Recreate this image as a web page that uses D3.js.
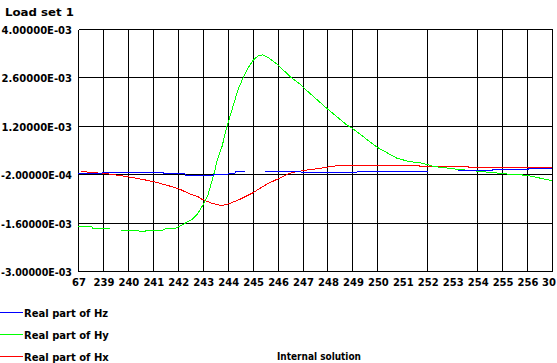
<!DOCTYPE html>
<html>
<head>
<meta charset="utf-8">
<script src="https://cdn.jsdelivr.net/npm/d3@7"></script>
<style>
  body { margin: 0; background: #fff; }
  text { font-family: "DejaVu Sans", sans-serif; font-weight: bold; font-size: 10px; fill: #000; }
</style>
</head>
<body>
<div id="chart"></div>
<script>
// x positions are in tick units (0 = first label, 19 = last label)
// y values are in units of 1e-3
const xLabels = ['67', '239', '240', '241', '242', '243', '244', '245', '246', '247',
  '248', '249', '250', '251', '252', '253', '254', '255', '256', '30'];
const missingGrid = [13, 15];
const yTicks = [4.0, 2.6, 1.2, -0.2, -1.6, -3.0];
const yLabels = ['4.00000E-03', '2.60000E-03', '1.20000E-03', '-2.00000E-04', '-1.60000E-03', '-3.00000E-03'];

const legendNames = ['Real part of Hz', 'Real part of Hy', 'Real part of Hx'];
const legendColors = ['#0000ff', '#00ff00', '#ff0000'];

// Real part of Hz (blue), null = gap in the trace
const hz = [[0, -0.174], [0.96, -0.174], [1.0, -0.145], [3.41, -0.145], [3.45, -0.194],
  [4.29, -0.194], [4.33, -0.243], [5.41, -0.243], [5.45, -0.2], [6.01, -0.2],
  [6.03, -0.174], [6.29, -0.174], [6.31, -0.128], [6.69, -0.128], [7.1, null],
  [7.50, -0.116], [8.90, -0.116], [8.94, -0.145], [11.18, -0.145], [11.22, -0.116],
  [14.03, -0.116], [14.6, null], [15.23, -0.087], [16.60, -0.087], [16.64, -0.058],
  [18.04, -0.058], [18.08, -0.029], [19, -0.029]];

// Real part of Hy (green)
const hy = [[0, -1.719], [0.56, -1.719], [0.60, -1.785], [1.28, -1.785], [1.5, null],
  [1.72, -1.823], [2.41, -1.823], [2.45, -1.852], [2.69, -1.852], [2.73, -1.823],
  [3.37, -1.823], [3.57, -1.765], [3.89, -1.765], [4.09, -1.698], [4.29, -1.62],
  [4.57, -1.505], [4.81, -1.331], [5.01, -1.09], [5.21, -0.80], [5.29, -0.60],
  [5.37, -0.40], [5.49, -0.08], [5.57, 0.18], [5.77, 0.595], [5.97, 1.174],
  [6.21, 1.752], [6.41, 2.236], [6.61, 2.574], [6.81, 2.863], [7.01, 3.083],
  [7.22, 3.228], [7.40, 3.25], [7.62, 3.181], [7.98, 2.979], [8.30, 2.765],
  [8.58, 2.574], [8.90, 2.409], [9.0, 2.33], [9.98, 1.70], [10.78, 1.22],
  [10.98, 1.136], [11.99, 0.58], [12.79, 0.26], [13.31, 0.16], [13.71, 0.133],
  [14.31, 0.017], [15.23, -0.058], [16.23, -0.128], [17.20, -0.194], [18.00, -0.232],
  [19, -0.388]];

// Real part of Hx (red)
const hx = [[0.12, -0.12], [0.68, -0.157], [1.20, -0.19], [1.88, -0.261], [2.57, -0.348],
  [3.09, -0.426], [3.77, -0.562], [4.09, -0.637], [4.29, -0.706], [4.49, -0.773],
  [4.81, -0.851], [4.97, -0.926], [5.37, -1.042], [5.77, -1.111], [6.09, -1.042],
  [6.49, -0.926], [6.97, -0.753], [7.58, -0.484], [7.98, -0.348], [8.38, -0.203],
  [8.62, -0.145], [9.10, -0.087], [9.42, -0.058], [9.98, 0.0], [10.18, 0.029],
  [10.62, 0.057], [13.63, 0.057], [13.71, 0.03], [15.63, 0.03], [15.67, 0.0], [19, 0.0]];

var width = 557, height = 363;
var plot = {left: 78, right: 552, top: 29, bottom: 271};

var svg = d3.select('#chart')
  .append('svg')
  .attr('width', width)
  .attr('height', height);

var x = d3.scaleLinear().domain([0, xLabels.length - 1]).range([plot.left, plot.right]);
var y = d3.scaleLinear().domain([-3, 4]).range([plot.bottom, plot.top]);

// pixel snapped positions for the grid
var px = function (v) { return Math.round(x(v)) + 0.5; };
var py = function (v) { return Math.round(y(v)) + 0.5; };

svg.append('text')
  .attr('x', 5)
  .attr('y', 16)
  .attr('textLength', 69)
  .attr('lengthAdjust', 'spacingAndGlyphs')
  .text('Load set 1');

var grid = svg.append('g')
  .attr('stroke', '#000')
  .attr('stroke-width', 1)
  .attr('shape-rendering', 'crispEdges');

grid.selectAll('line.h')
  .data(yTicks)
  .enter()
  .append('line')
  .attr('class', 'h')
  .attr('x1', px(0))
  .attr('x2', px(xLabels.length - 1))
  .attr('y1', function (d) { return py(d); })
  .attr('y2', function (d) { return py(d); });

grid.selectAll('line.v')
  .data(d3.range(xLabels.length).filter(function (i) { return missingGrid.indexOf(i) < 0; }))
  .enter()
  .append('line')
  .attr('class', 'v')
  .attr('y1', py(4))
  .attr('y2', py(-3))
  .attr('x1', function (d) { return px(d); })
  .attr('x2', function (d) { return px(d); });

svg.append('g')
  .selectAll('text')
  .data(yTicks)
  .enter()
  .append('text')
  .attr('x', 72)
  .attr('y', function (d) { return y(d) + 5; })
  .attr('text-anchor', 'end')
  .text(function (d, i) { return yLabels[i]; })
  .each(function () {
    // squeeze the long labels so they stay inside the left edge
    if (this.getComputedTextLength() > 71) {
      d3.select(this).attr('textLength', 71).attr('lengthAdjust', 'spacingAndGlyphs');
    }
  });

svg.append('g')
  .selectAll('text')
  .data(xLabels)
  .enter()
  .append('text')
  .attr('x', function (d, i) { return i === xLabels.length - 1 ? 556 : x(i) + 1; })
  .attr('y', 286)
  .attr('text-anchor', function (d, i) { return i === xLabels.length - 1 ? 'end' : 'middle'; })
  .text(function (d) { return d; });

var line = d3.line()
  .defined(function (d) { return d[1] != null; })
  .x(function (d) { return x(d[0]); })
  .y(function (d) { return y(d[1]); });

[[hx, '#ff0000'], [hy, '#00ff00'], [hz, '#0000ff']].forEach(function (s) {
  svg.append('path')
    .datum(s[0])
    .attr('d', line)
    .attr('fill', 'none')
    .attr('stroke', s[1])
    .attr('stroke-width', 1)
    .attr('shape-rendering', 'crispEdges');
});

var legend = svg.append('g')
  .selectAll('g')
  .data(legendNames)
  .enter()
  .append('g')
  .attr('transform', function (d, i) { return 'translate(0,' + (312 + i * 22) + ')'; });

legend.append('line')
  .attr('x1', 0)
  .attr('x2', 23)
  .attr('y1', 0.5)
  .attr('y2', 0.5)
  .attr('stroke', function (d, i) { return legendColors[i]; })
  .attr('shape-rendering', 'crispEdges');

legend.append('text')
  .attr('x', 24)
  .attr('y', 4.5)
  .text(function (d) { return d; });

svg.append('text')
  .attr('x', 277)
  .attr('y', 360)
  .attr('textLength', 84)
  .attr('lengthAdjust', 'spacingAndGlyphs')
  .text('Internal solution');
</script>
</body>
</html>
